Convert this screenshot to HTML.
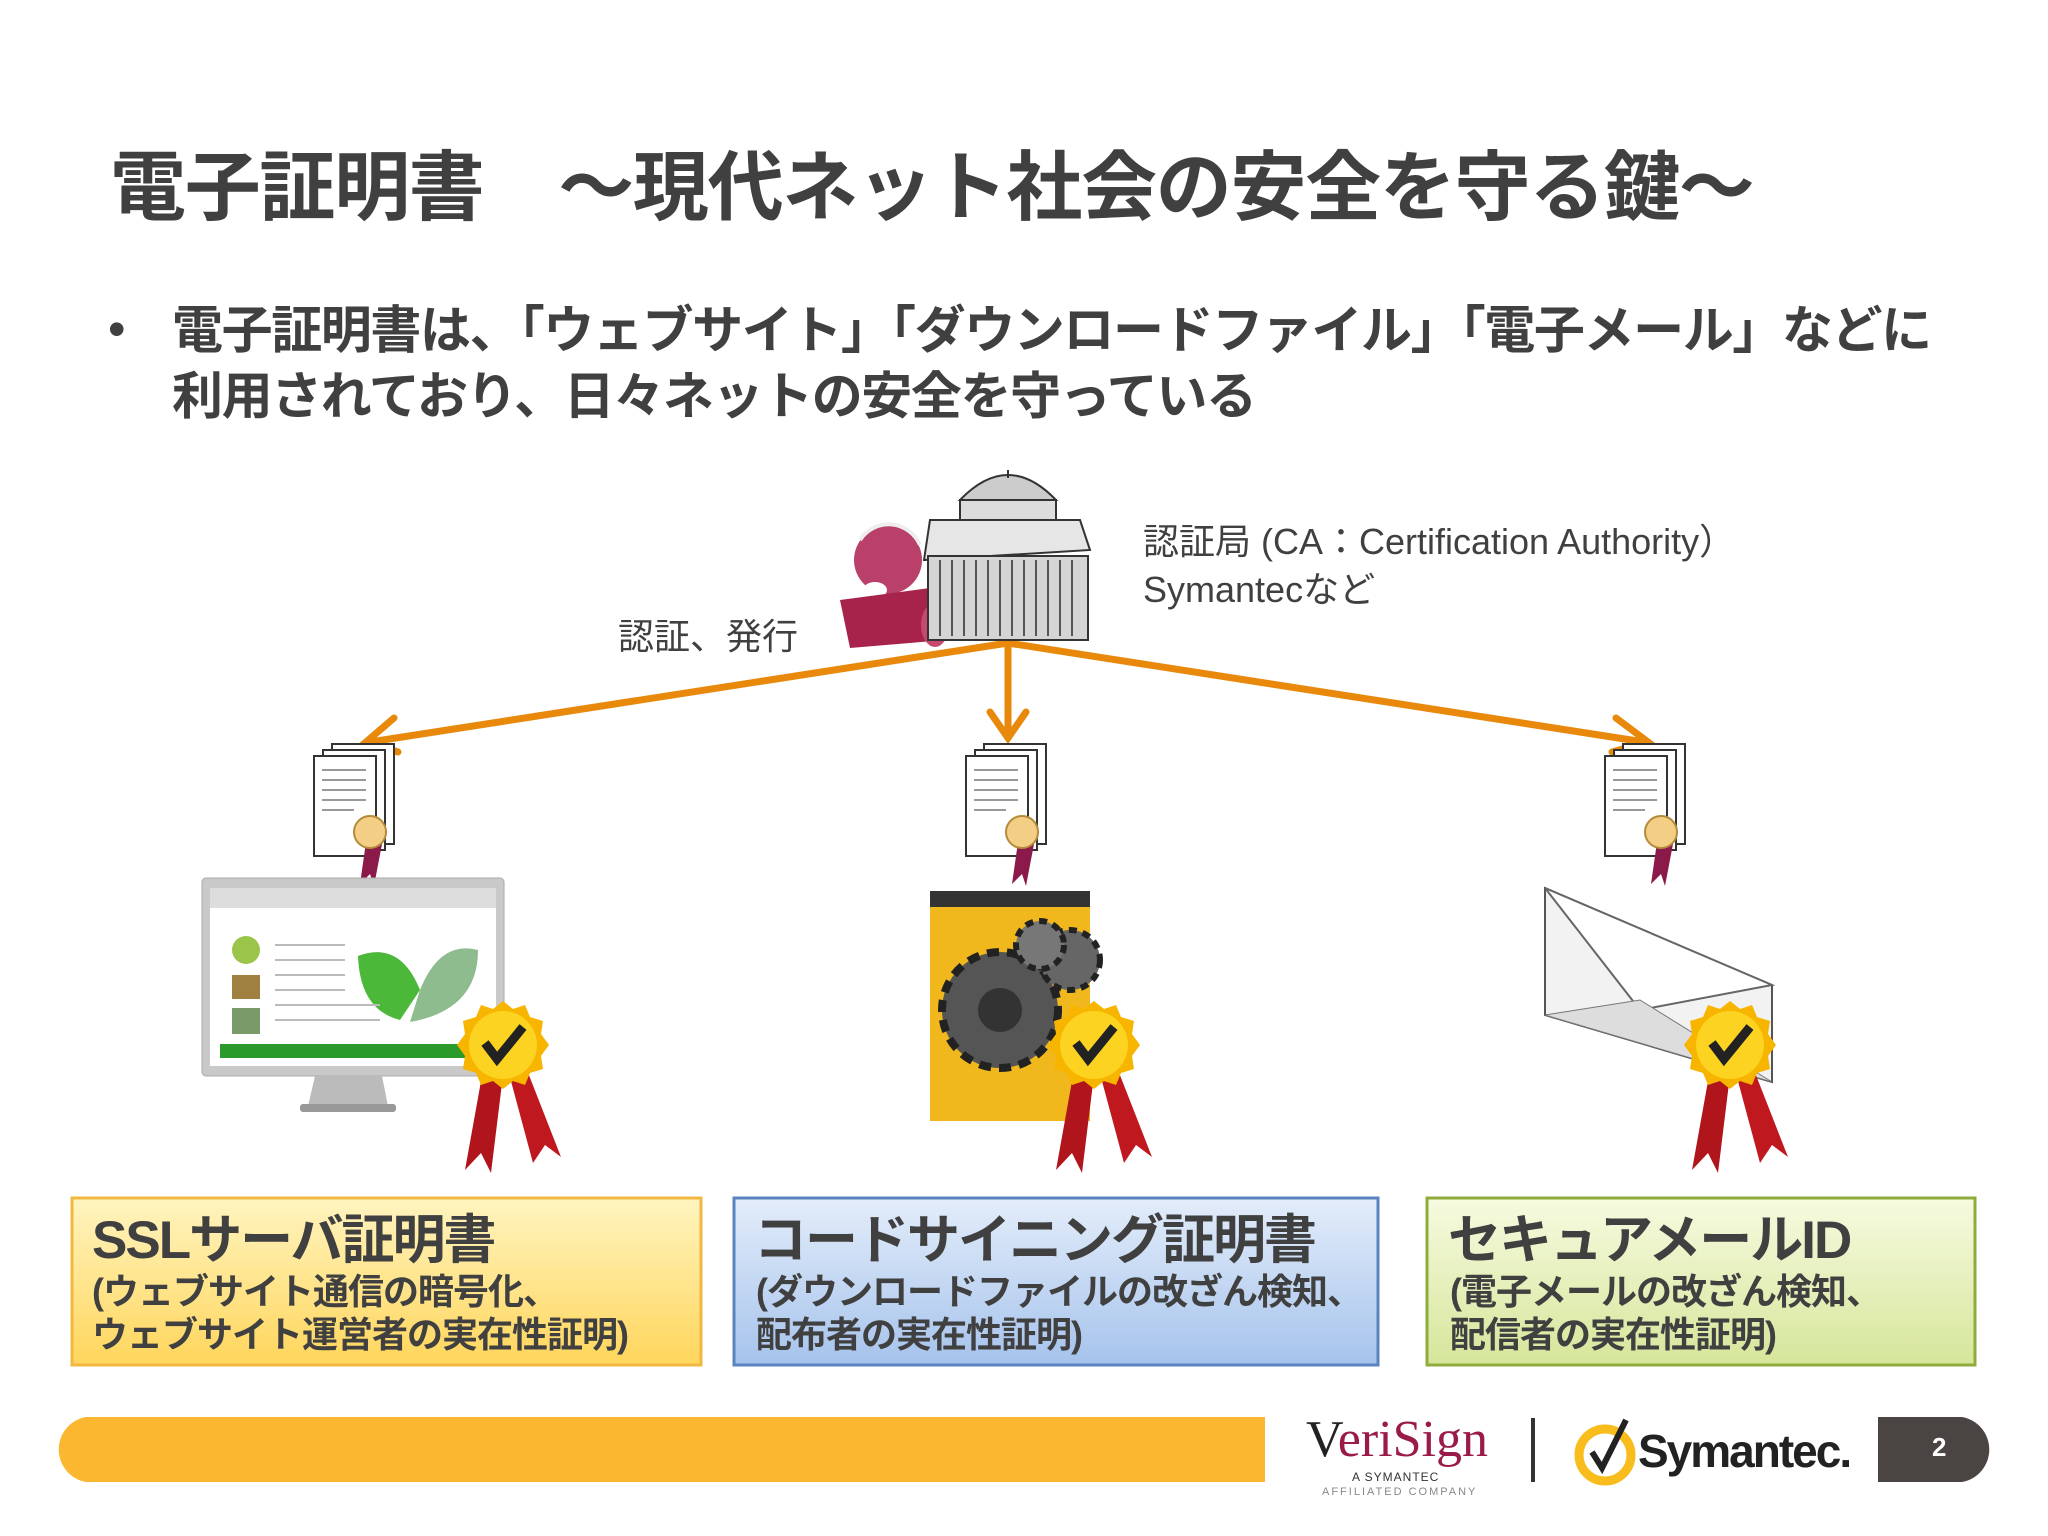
<!DOCTYPE html>
<html><head><meta charset="utf-8"><style>
body{margin:0;background:#fff}
#c{position:relative;width:2048px;height:1536px;overflow:hidden;background:#fff;font-family:"Liberation Sans","Noto Sans CJK JP",sans-serif;color:#3f3f3f}
.t{position:absolute;white-space:nowrap}
</style></head><body><div id="c">
<svg width="2048" height="1536" style="position:absolute;left:0;top:0">
<defs>
<linearGradient id="gy" x1="0" y1="0" x2="0" y2="1"><stop offset="0" stop-color="#fff4c0"/><stop offset="1" stop-color="#ffd65c"/></linearGradient>
<linearGradient id="gb" x1="0" y1="0" x2="0" y2="1"><stop offset="0" stop-color="#e3edfa"/><stop offset="1" stop-color="#a6c3ec"/></linearGradient>
<linearGradient id="gg" x1="0" y1="0" x2="0" y2="1"><stop offset="0" stop-color="#f7fae0"/><stop offset="1" stop-color="#d5e69a"/></linearGradient>
<g id="doc">
<rect x="18" y="0" width="62" height="100" fill="#fff" stroke="#333" stroke-width="2"/>
<rect x="9" y="6" width="62" height="100" fill="#fff" stroke="#333" stroke-width="2"/>
<rect x="0" y="12" width="62" height="100" fill="#fff" stroke="#333" stroke-width="2"/>
<g stroke="#999" stroke-width="2"><line x1="8" y1="26" x2="52" y2="26"/><line x1="8" y1="36" x2="52" y2="36"/><line x1="8" y1="46" x2="52" y2="46"/><line x1="8" y1="56" x2="52" y2="56"/><line x1="8" y1="66" x2="40" y2="66"/></g>
<path d="M52 98 L46 140 L56 130 L60 142 L68 100 Z" fill="#8b1a4a"/>
<circle cx="56" cy="88" r="16" fill="#f3cf86" stroke="#b58a3a" stroke-width="2"/>
</g>
<g id="seal">
<path d="M-20 25 L-38 125 L-22 108 L-12 128 L0 30 Z" fill="#b0151b"/>
<path d="M5 25 L30 118 L42 100 L58 112 L22 20 Z" fill="#c0181f"/>
<polygon points="0,-44 10,-36 22,-40 27,-28 40,-24 38,-11 46,0 38,11 40,24 27,28 22,40 10,36 0,44 -10,36 -22,40 -27,28 -40,24 -38,11 -46,0 -38,-11 -40,-24 -27,-28 -22,-40 -10,-36" fill="#f7b500"/>
<circle r="34" fill="#fcd320"/>
<path d="M-18 -2 L-6 14 L20 -18" fill="none" stroke="#222" stroke-width="9"/>
</g>
</defs>
<g stroke="#e8890c" stroke-width="7" fill="none" stroke-linecap="round">
<line x1="1008" y1="643" x2="370" y2="742"/>
<line x1="1008" y1="643" x2="1008" y2="736"/>
<line x1="1008" y1="643" x2="1644" y2="742"/>
<polyline points="394,718 366,742 398,752"/>
<polyline points="990,712 1008,738 1026,712"/>
<polyline points="1616,718 1648,742 1612,752"/>
</g>
<g>
<circle cx="888" cy="560" r="34" fill="#b8406a"/>
<path d="M860 540 A34 34 0 0 1 920 545" fill="none" stroke="#eee" stroke-width="4"/>
<ellipse cx="875" cy="590" rx="12" ry="8" fill="#fff"/>
<path d="M840 600 L930 588 L945 640 L850 648 Z" fill="#a8234c"/>
<ellipse cx="935" cy="625" rx="14" ry="22" fill="#c74a6e"/>
</g>
<g stroke="#333" stroke-width="2">
<path d="M960 500 Q1008 450 1056 500 Z" fill="#ccc"/>
<line x1="1008" y1="470" x2="1008" y2="478"/>
<rect x="960" y="500" width="96" height="20" fill="#ddd"/>
<polygon points="930,520 1080,520 1090,550 924,560" fill="#e6e6e6"/>
<rect x="928" y="556" width="160" height="84" fill="#d5d5d5"/>
<g stroke="#555">
<line x1="940" y1="560" x2="940" y2="636"/><line x1="952" y1="560" x2="952" y2="636"/><line x1="964" y1="560" x2="964" y2="636"/><line x1="976" y1="560" x2="976" y2="636"/><line x1="988" y1="560" x2="988" y2="636"/><line x1="1000" y1="560" x2="1000" y2="636"/><line x1="1012" y1="560" x2="1012" y2="636"/><line x1="1024" y1="560" x2="1024" y2="636"/><line x1="1036" y1="560" x2="1036" y2="636"/><line x1="1048" y1="560" x2="1048" y2="636"/><line x1="1060" y1="560" x2="1060" y2="636"/><line x1="1072" y1="560" x2="1072" y2="636"/></g>
</g>
<use href="#doc" x="314" y="744"/>
<use href="#doc" x="966" y="744"/>
<use href="#doc" x="1605" y="744"/>
<rect x="202" y="878" width="302" height="198" rx="4" fill="#c9c9c9" stroke="#aaa"/>
<rect x="210" y="888" width="286" height="178" fill="#fff"/>
<rect x="210" y="888" width="286" height="20" fill="#ddd"/>
<rect x="220" y="1044" width="270" height="14" fill="#2a9a2a"/>
<path d="M358 956 Q400 940 420 990 L400 1020 Q360 1010 358 956 Z" fill="#4cb83a"/>
<path d="M420 990 Q440 940 478 950 Q478 1010 410 1022 Z" fill="#8fbc8f"/>
<circle cx="246" cy="950" r="14" fill="#9bc54a"/>
<rect x="232" y="975" width="28" height="24" fill="#a08040"/>
<rect x="232" y="1008" width="28" height="26" fill="#7a9a6a"/>
<g stroke="#bbb" stroke-width="2"><line x1="275" y1="945" x2="345" y2="945"/><line x1="275" y1="960" x2="345" y2="960"/><line x1="275" y1="975" x2="345" y2="975"/><line x1="275" y1="990" x2="345" y2="990"/><line x1="275" y1="1005" x2="380" y2="1005"/><line x1="275" y1="1020" x2="380" y2="1020"/></g>
<path d="M315 1076 L382 1076 L388 1106 L308 1106 Z" fill="#bbb"/>
<rect x="300" y="1104" width="96" height="8" rx="3" fill="#999"/>
<rect x="930" y="891" width="160" height="230" fill="#f0b81c"/>
<rect x="930" y="891" width="160" height="16" fill="#333"/>
<circle cx="1000" cy="1010" r="58" fill="#555" stroke="#222" stroke-width="8" stroke-dasharray="12 8"/>
<circle cx="1000" cy="1010" r="22" fill="#333"/>
<circle cx="1070" cy="960" r="30" fill="#666" stroke="#222" stroke-width="6" stroke-dasharray="8 6"/>
<circle cx="1040" cy="945" r="24" fill="#777" stroke="#222" stroke-width="6" stroke-dasharray="8 6"/>
<polygon points="1545,888 1772,985 1772,1082 1545,1015" fill="#f2f2f2" stroke="#555" stroke-width="2"/>
<polygon points="1545,888 1640,1010 1772,985" fill="#fff" stroke="#666" stroke-width="2"/>
<polygon points="1545,1015 1640,1000 1772,1082" fill="#ddd" stroke="#777"/>
<use href="#seal" x="503" y="1045"/>
<use href="#seal" x="1094" y="1045"/>
<use href="#seal" x="1730" y="1045"/>
<rect x="72" y="1198" width="629" height="167" fill="url(#gy)" stroke="#f0b840" stroke-width="3"/>
<rect x="734" y="1198" width="644" height="167" fill="url(#gb)" stroke="#5a84bf" stroke-width="3"/>
<rect x="1427" y="1198" width="548" height="167" fill="url(#gg)" stroke="#8fab3c" stroke-width="3"/>
<path d="M86 1417 L1265 1417 L1265 1482 L86 1482 A33 33 0 0 1 86 1417 Z" fill="#fbb72f"/>
<path d="M1878 1417 L1962 1417 A33 33 0 0 1 1962 1482 L1878 1482 Z" fill="#4a4442"/>
<line x1="1533" y1="1418" x2="1533" y2="1482" stroke="#333" stroke-width="4"/>
<circle cx="1605" cy="1455" r="26" fill="none" stroke="#f8bd1c" stroke-width="9"/>
<path d="M1592 1452 L1602 1468 L1626 1420" fill="none" stroke="#222" stroke-width="6"/>
</svg>

<div class="t" style="left:110px;top:126px;font-size:76px;font-weight:bold;letter-spacing:-1.3px;color:#404040">電子証明書　～現代ネット社会の安全を守る鍵～</div>
<div class="t" style="left:108px;top:300px;font-size:50px;color:#404040">•</div>
<div class="t" style="left:172px;top:298px;font-size:51px;font-weight:bold;letter-spacing:-1.4px;color:#404040;line-height:66px">電子証明書は、「ウェブサイト」「ダウンロードファイル」「電子メール」などに<br>利用されており、日々ネットの安全を守っている</div>
<div class="t" style="left:1143px;top:518px;font-size:36px;line-height:48px;color:#404040">認証局 (CA：Certification Authority）<br>Symantecなど</div>
<div class="t" style="left:618px;top:608px;font-size:36px;color:#404040">認証、発行</div>

<div class="t" style="left:92px;top:1198px;font-size:53px;font-weight:bold;color:#404040;letter-spacing:-2px">SSLサーバ証明書</div>
<div class="t" style="left:92px;top:1270px;font-size:36px;font-weight:bold;line-height:43px;color:#404040;letter-spacing:-1px">(ウェブサイト通信の暗号化、<br>ウェブサイト運営者の実在性証明)</div>
<div class="t" style="left:754px;top:1198px;font-size:53px;font-weight:bold;color:#404040;letter-spacing:-2px">コードサイニング証明書</div>
<div class="t" style="left:756px;top:1270px;font-size:36px;font-weight:bold;line-height:43px;color:#404040;letter-spacing:-1px">(ダウンロードファイルの改ざん検知、<br>配布者の実在性証明)</div>
<div class="t" style="left:1448px;top:1198px;font-size:53px;font-weight:bold;color:#404040;letter-spacing:-2px">セキュアメールID</div>
<div class="t" style="left:1450px;top:1270px;font-size:36px;font-weight:bold;line-height:43px;color:#404040;letter-spacing:-1px">(電子メールの改ざん検知、<br>配信者の実在性証明)</div>

<div class="t" style="left:1306px;top:1410px;font-size:52px;font-family:'Liberation Serif',serif;color:#9a1a4a"><span style="color:#222">V</span>eriSign</div>
<div class="t" style="left:1352px;top:1470px;font-size:12px;color:#333;letter-spacing:1px">A SYMANTEC</div>
<div class="t" style="left:1322px;top:1486px;font-size:11px;color:#888;letter-spacing:2px">AFFILIATED COMPANY</div>
<div class="t" style="left:1638px;top:1424px;font-size:46px;font-weight:bold;color:#222;letter-spacing:-2px">Symantec.</div>
<div class="t" style="left:1932px;top:1432px;font-size:26px;font-weight:bold;color:#fff">2</div>
</div></body></html>
